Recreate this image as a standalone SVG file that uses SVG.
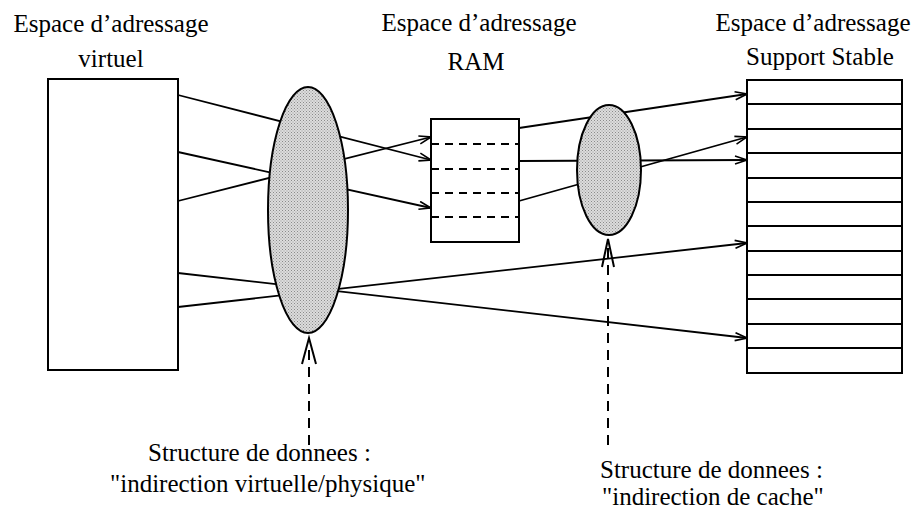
<svg xmlns="http://www.w3.org/2000/svg" width="916" height="514" viewBox="0 0 916 514" font-family="'Liberation Serif', 'DejaVu Serif', serif">
  <style>
    text { font-family: 'Liberation Serif', 'DejaVu Serif', serif; font-size: 25px; fill: #000; }
    .box { fill: #fff; stroke: #000; stroke-width: 2; }
    .row { stroke: #000; stroke-width: 1.8; }
    .dash { stroke: #000; stroke-width: 1.8; stroke-dasharray: 8 6; }
    .blob { stroke: #000; stroke-width: 2; }
    .link { fill: none; stroke: #000; stroke-width: 1.8; }
    .arrow { marker-end: url(#head); }
    .ptr { fill: none; stroke: #000; stroke-width: 2; stroke-dasharray: 10 7; }
    .ptrhead { fill: none; stroke: #000; stroke-width: 2; }
  </style>
  <defs>
    <marker id="head" markerUnits="userSpaceOnUse" markerWidth="14" markerHeight="10" refX="13" refY="5" orient="auto" viewBox="0 0 14 10">
      <path d="M1,1 L13,5 L1,9" fill="none" stroke="#000" stroke-width="1.6"/>
    </marker>
    <pattern id="stipple" width="3" height="3" patternUnits="userSpaceOnUse">
      <rect width="3" height="3" fill="#dcdcdc"/>
      <rect x="0" y="0" width="1" height="1" fill="#8a8a8a"/>
      <rect x="1.5" y="1.5" width="1" height="1" fill="#9a9a9a"/>
    </pattern>
  </defs>

  <!-- titles -->
  <g id="titles">
    <text x="111" y="32" text-anchor="middle">Espace d’adressage</text>
    <text x="111" y="67" text-anchor="middle">virtuel</text>
    <text x="479" y="31" text-anchor="middle">Espace d’adressage</text>
    <text x="476" y="70" text-anchor="middle">RAM</text>
    <text x="813" y="31" text-anchor="middle">Espace d’adressage</text>
    <text x="820" y="65" text-anchor="middle">Support Stable</text>
  </g>

  <!-- connectors (drawn under the indirection blobs) -->
  <g id="connectors">
    <line class="link arrow" x1="178" y1="95" x2="431" y2="160"/>
    <line class="link arrow" x1="178" y1="152" x2="431" y2="208"/>
    <line class="link arrow" x1="178" y1="201" x2="431" y2="137"/>
    <line class="link arrow" x1="178" y1="273" x2="747" y2="338"/>
    <line class="link arrow" x1="178" y1="307" x2="747" y2="243"/>
    <line class="link arrow" x1="519" y1="128" x2="747" y2="94"/>
    <line class="link arrow" x1="519" y1="161" x2="747" y2="160"/>
    <line class="link arrow" x1="519" y1="201" x2="747" y2="137"/>
  </g>

  <!-- virtual address space -->
  <g id="virtuel">
    <rect class="box" x="48" y="79" width="130" height="291"/>
  </g>

  <!-- RAM frames -->
  <g id="ram">
    <rect class="box" x="431" y="119" width="88" height="123"/>
    <line class="dash" x1="431" y1="144" x2="519" y2="144"/>
    <line class="dash" x1="431" y1="169" x2="519" y2="169"/>
    <line class="dash" x1="431" y1="193" x2="519" y2="193"/>
    <line class="dash" x1="431" y1="217" x2="519" y2="217"/>
  </g>

  <!-- stable storage blocks -->
  <g id="support-stable">
    <rect class="box" x="747" y="80" width="155" height="293"/>
    <line class="row" x1="747" y1="104" x2="902" y2="104"/>
    <line class="row" x1="747" y1="129" x2="902" y2="129"/>
    <line class="row" x1="747" y1="153" x2="902" y2="153"/>
    <line class="row" x1="747" y1="178" x2="902" y2="178"/>
    <line class="row" x1="747" y1="202" x2="902" y2="202"/>
    <line class="row" x1="747" y1="226" x2="902" y2="226"/>
    <line class="row" x1="747" y1="251" x2="902" y2="251"/>
    <line class="row" x1="747" y1="275" x2="902" y2="275"/>
    <line class="row" x1="747" y1="299" x2="902" y2="299"/>
    <line class="row" x1="747" y1="324" x2="902" y2="324"/>
    <line class="row" x1="747" y1="348" x2="902" y2="348"/>
  </g>

  <!-- virtual/physical indirection table -->
  <g id="indirection-virtuelle">
    <ellipse class="blob" cx="308" cy="210" rx="40" ry="123" fill="url(#stipple)"/>
  </g>

  <!-- cache indirection table -->
  <g id="indirection-cache">
    <ellipse class="blob" cx="609" cy="170" rx="32" ry="65" fill="url(#stipple)"/>
  </g>

  <!-- dashed pointers from the captions -->
  <g id="pointers">
    <line class="ptr" x1="309" y1="445" x2="309" y2="345"/>
    <path class="ptrhead" d="M302,364 L309,338 L316,364"/>
    <line class="ptr" x1="608" y1="445" x2="608" y2="246"/>
    <path class="ptrhead" d="M602,267 L608,239 L614,267"/>
  </g>

  <!-- captions -->
  <g id="captions">
    <text x="148" y="461">Structure de donnees :</text>
    <text x="110" y="492">"indirection virtuelle/physique"</text>
    <text x="600" y="478">Structure de donnees :</text>
    <text x="602" y="505">"indirection de cache"</text>
  </g>
</svg>
